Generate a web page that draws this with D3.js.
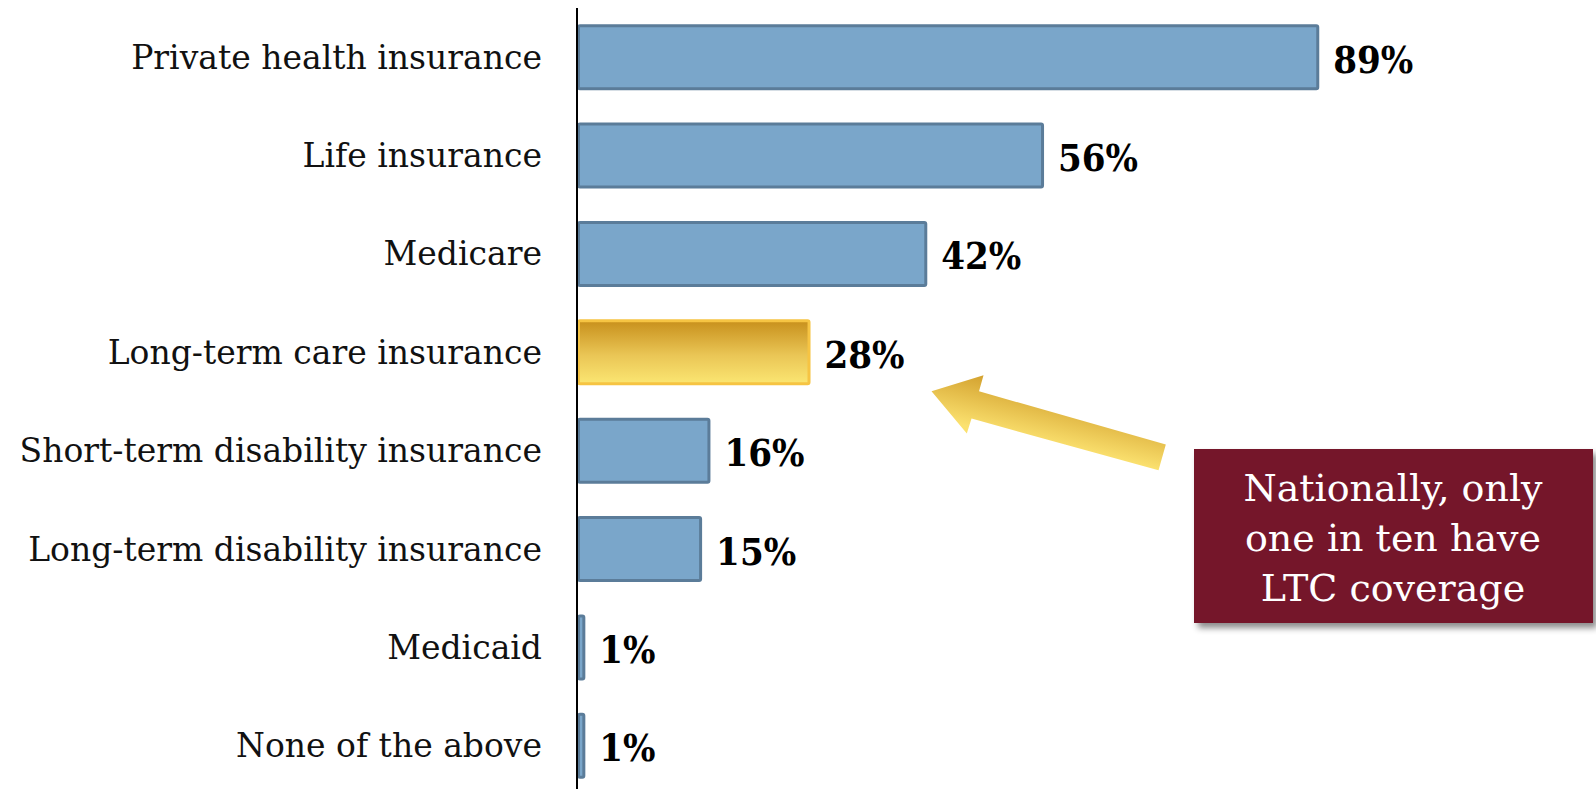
<!DOCTYPE html>
<html>
<head>
<meta charset="utf-8">
<script src="https://cdn.jsdelivr.net/npm/d3@7"></script>
<style>
  html, body { margin: 0; padding: 0; background: #ffffff; }
  svg { display: block; }
</style>
</head>
<body>
<svg id="chart" width="1596" height="789"></svg>
<script>
const categories = [
  "Private health insurance",
  "Life insurance",
  "Medicare",
  "Long-term care insurance",
  "Short-term disability insurance",
  "Long-term disability insurance",
  "Medicaid",
  "None of the above"
];
const values = [89, 56, 42, 28, 16, 15, 1, 1];
const valueLabels = ["89%", "56%", "42%", "28%", "16%", "15%", "1%", "1%"];
const highlightCategory = "Long-term care insurance";
const calloutLines = ["Nationally, only", "one in ten have", "LTC coverage"];

const W = 1596, H = 789;
const svg = d3.select("#chart");

const x = d3.scaleLinear().domain([0, 100]).range([577, 1411]);
const y = d3.scaleBand().domain(categories).range([8, 795])
  .paddingInner(0.33).paddingOuter(0.165);

const defs = svg.append("defs");
const gold = defs.append("linearGradient").attr("id", "gold")
  .attr("x1", 0).attr("y1", 0).attr("x2", 0).attr("y2", 1);
gold.append("stop").attr("offset", "0%").attr("stop-color", "#c8901c");
gold.append("stop").attr("offset", "55%").attr("stop-color", "#eac656");
gold.append("stop").attr("offset", "100%").attr("stop-color", "#fbe672");

const arrowGrad = defs.append("linearGradient").attr("id", "arrowGold")
  .attr("gradientUnits", "userSpaceOnUse")
  .attr("x1", 1000).attr("y1", 365).attr("x2", 985).attr("y2", 430);
arrowGrad.append("stop").attr("offset", "0%").attr("stop-color", "#c9911e");
arrowGrad.append("stop").attr("offset", "100%").attr("stop-color", "#fbe16f");

const shadow = defs.append("filter").attr("id", "shadow")
  .attr("x", "-10%").attr("y", "-10%").attr("width", "125%").attr("height", "130%");
shadow.append("feDropShadow").attr("dx", 4).attr("dy", 5).attr("stdDeviation", 3)
  .attr("flood-color", "#000").attr("flood-opacity", 0.45);

const data = categories.map((c, i) => ({ c, v: values[i], label: valueLabels[i] }));

// bars
svg.append("g").selectAll("rect").data(data).join("rect")
  .attr("x", x(0) + 1.5)
  .attr("y", d => y(d.c) + 1.5)
  .attr("width", d => Math.max(0, x(d.v) - x(0) - 3))
  .attr("height", y.bandwidth() - 3)
  .attr("rx", 1.5)
  .attr("fill", d => d.c === highlightCategory ? "url(#gold)" : "#7aa6ca")
  .attr("stroke", d => d.c === highlightCategory ? "#f6c443" : "#5b7c99")
  .attr("stroke-width", 3);

// category labels
svg.append("g").selectAll("text").data(data).join("text")
  .attr("x", 542)
  .attr("y", d => y(d.c) + y.bandwidth() / 2)
  .attr("text-anchor", "end")
  .attr("dominant-baseline", "central")
  .attr("font-family", "'DejaVu Serif', serif")
  .attr("font-size", 33)
  .attr("fill", "#111")
  .text(d => d.c);

// value labels
svg.append("g").selectAll("text").data(data).join("text")
  .attr("x", d => x(d.v) + 14)
  .attr("y", d => y(d.c) + y.bandwidth() / 2 + 2)
  .attr("dominant-baseline", "central")
  .attr("font-family", "'DejaVu Serif Condensed', 'DejaVu Serif', serif")
  .attr("font-weight", "bold")
  .attr("font-size", 38)
  .attr("fill", "#000")
  .text(d => d.label);

// axis line
svg.append("line")
  .attr("x1", x(0)).attr("x2", x(0))
  .attr("y1", 8).attr("y2", H)
  .attr("stroke", "#000").attr("stroke-width", 2);

// arrow annotation pointing at the highlighted bar's label
const hv = values[categories.indexOf(highlightCategory)];
const tipX = x(hv) + 121, tipY = y(highlightCategory) + y.bandwidth() / 2 + 39;
// polygon relative to tip: tip, upper head corner, upper shaft joint, tail top, tail bottom, lower shaft joint, lower head corner
const poly = [
  [0, 0], [52, -16], [47.5, 0], [234.3, 53.3], [227, 79], [40, 27.3], [35.3, 42.3]
];
svg.append("polygon")
  .attr("points", poly.map(p => [tipX + p[0], tipY + p[1]].join(",")).join(" "))
  .attr("fill", "url(#arrowGold)");

// callout box
const box = svg.append("g");
box.append("rect")
  .attr("x", 1194).attr("y", 449).attr("width", 399).attr("height", 174)
  .attr("fill", "#74152a")
  .attr("filter", "url(#shadow)");
box.selectAll("text").data(calloutLines).join("text")
  .attr("x", 1393)
  .attr("y", (d, i) => 501 + i * 50)
  .attr("text-anchor", "middle")
  .attr("font-family", "'DejaVu Serif', serif")
  .attr("font-size", 38)
  .attr("fill", "#fff")
  .text(d => d);
</script>
</body>
</html>
